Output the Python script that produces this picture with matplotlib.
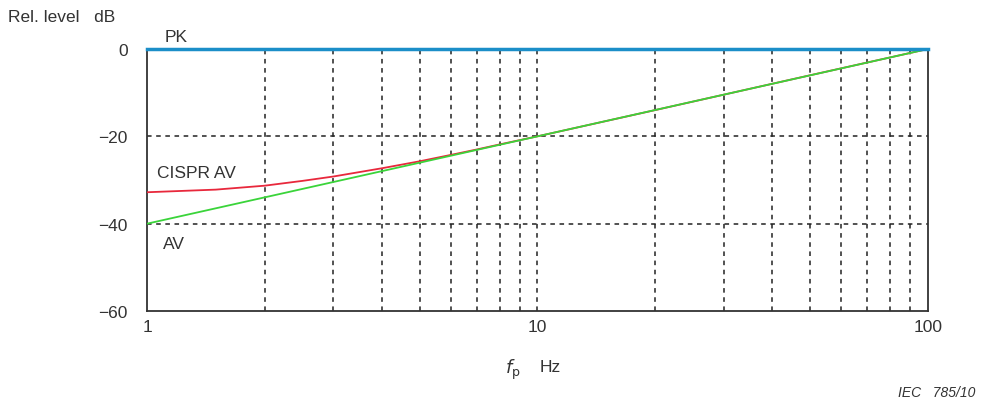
import numpy as np
import matplotlib.pyplot as plt

plt.rcParams['font.family'] = ['Liberation Sans', 'DejaVu Sans']

# frequency (Hz) and relative levels (dB)
freq_av = [1, 100]
level_av = [-40, 0]
freq_pk = [1, 100]
level_pk = [0, 0]
freq_cispr = [1, 1.5, 2, 2.5, 3, 4, 5, 6, 7, 8, 10, 20, 50, 100]
level_cispr = [-32.8, -32.2, -31.3, -30.2, -29.2, -27.3, -25.7, -24.25, -23.0, -21.85,
               -20.0, -14.0, -6.0, 0.0]

x_ticks = [1, 10, 100]
x_ticklabels = ['1', '10', '100']
y_ticks = [0, -20, -40, -60]
y_ticklabels = ['0', '\u221220', '\u221240', '\u221260']

fig = plt.figure(figsize=(9.87, 4.10), dpi=100)
ax = fig.add_axes([0.149, 0.239, 0.791, 0.639])
ax.set_xscale('log')
ax.set_xlim(1, 100)
ax.set_ylim(-60, 0)

# dashed grid
grid_x = [2, 3, 4, 5, 6, 7, 8, 9, 10, 20, 30, 40, 50, 60, 70, 80, 90]
for gx in grid_x:
    ax.axvline(gx, color='#222222', lw=1.1, ls=(0, (3, 3)), zorder=1)
for gy in [-20, -40]:
    ax.axhline(gy, color='#222222', lw=1.1, ls=(0, (3, 3)), zorder=1)

ax.plot(freq_cispr, level_cispr, color='#e8283c', lw=1.3, zorder=3)
ax.plot(freq_av, level_av, color='#3ad43a', lw=1.3, zorder=4)
ax.plot(freq_pk, level_pk, color='#1b8ec8', lw=2.5, zorder=5, clip_on=False)

for s in ['left', 'bottom', 'right']:
    ax.spines[s].set_color('#333333')
    ax.spines[s].set_linewidth(1.3)
ax.spines['top'].set_visible(False)

ax.set_xticks(x_ticks)
ax.set_xticklabels(x_ticklabels)
ax.xaxis.set_minor_locator(plt.NullLocator())
ax.set_yticks(y_ticks)
ax.set_yticklabels(y_ticklabels)
ax.tick_params(length=0, labelsize=12.5, colors='#333333', pad=6)
ax.tick_params(axis='y', pad=14)

# labels
fig.text(8 / 987, 1 - 18 / 410, 'Rel. level   dB', fontsize=12.5, color='#333333', va='center')
ax.text(1.11, 2.8, 'PK', fontsize=12.5, color='#333333', va='center')
ax.text(1.06, -28.3, 'CISPR AV', fontsize=12.5, color='#333333', va='center')
ax.text(1.1, -44.5, 'AV', fontsize=12.5, color='#333333', va='center')
fig.text(505 / 987, 1 - 370 / 410, r'$\mathit{f}_{\mathrm{p}}$', fontsize=13, color='#333333', va='center')
fig.text(540 / 987, 1 - 368 / 410, 'Hz', fontsize=12.5, color='#333333', va='center')
fig.text(975 / 987, 1 - 393 / 410, 'IEC   785/10', fontsize=10, style='italic', color='#333333',
         ha='right', va='center')

fig.savefig('out.png', dpi=100)
